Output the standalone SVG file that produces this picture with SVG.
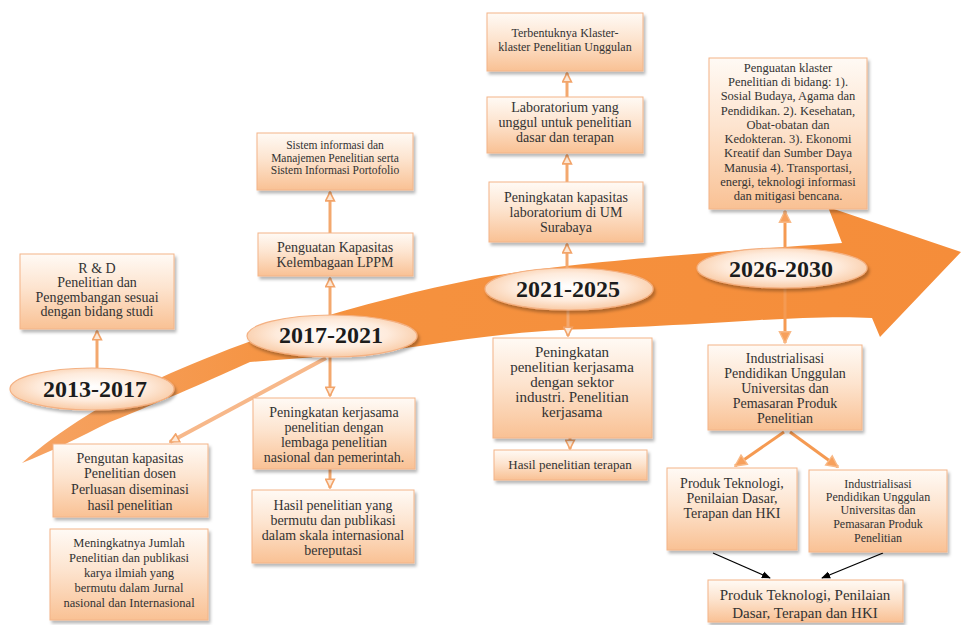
<svg xmlns="http://www.w3.org/2000/svg" width="961" height="625" viewBox="0 0 961 625">
<defs>
<linearGradient id="bg" x1="0" y1="0" x2="0" y2="1">
<stop offset="0" stop-color="#FFFAF5"/>
<stop offset="0.45" stop-color="#FDE4CF"/>
<stop offset="1" stop-color="#F9C194"/>
</linearGradient>
<radialGradient id="eg" cx="0.5" cy="0.45" r="0.6">
<stop offset="0" stop-color="#FFFFFF"/>
<stop offset="0.55" stop-color="#FEEBDC"/>
<stop offset="1" stop-color="#F8C49A"/>
</radialGradient>
<linearGradient id="band" x1="0" y1="0" x2="1" y2="0">
<stop offset="0" stop-color="#F6A363"/>
<stop offset="0.3" stop-color="#F5923F"/>
<stop offset="1" stop-color="#F58D3A"/>
</linearGradient>
<filter id="sh" x="-10%" y="-10%" width="130%" height="140%">
<feDropShadow dx="2" dy="3" stdDeviation="1.8" flood-color="#000" flood-opacity="0.28"/>
</filter>
<marker id="ao" viewBox="0 0 10 10" refX="9" refY="5" markerWidth="11" markerHeight="11" markerUnits="userSpaceOnUse" orient="auto">
<path d="M1,1 L9,5 L1,9 Z" fill="#FDE8D6" stroke="#F2A46A" stroke-width="1.5"/>
</marker>
<marker id="af" viewBox="0 0 10 10" refX="9" refY="5" markerWidth="14" markerHeight="14" markerUnits="userSpaceOnUse" orient="auto">
<path d="M1,1 L9,5 L1,9 Z" fill="#F7A05C" stroke="#F8B987" stroke-width="1"/>
</marker>
<marker id="ab" viewBox="0 0 10 10" refX="9" refY="5" markerWidth="9" markerHeight="9" markerUnits="userSpaceOnUse" orient="auto">
<path d="M0,1 L10,5 L0,9 Z" fill="#000"/>
</marker>
</defs>
<style>
.box{fill:url(#bg);stroke:#F3B488;stroke-width:1;filter:url(#sh)}
.el{fill:url(#eg);stroke:#F4B183;stroke-width:1.2;filter:url(#sh)}
.t{font-family:"Liberation Serif","Times New Roman",serif;fill:#333;text-anchor:middle}
.yr{font-family:"Liberation Serif","Times New Roman",serif;font-weight:bold;font-size:24px;fill:#1c1c1c;text-anchor:middle}
.c{stroke:#F3A86E;stroke-width:3;fill:none}
.cf{stroke:#F59A52;stroke-width:3;fill:none}
.cb{stroke:#000;stroke-width:1.3;fill:none}
</style>
<rect width="961" height="625" fill="#FFFFFF"/>
<path id="timeline-arrow" d="M22,463 C60,430 110,398 160,378 C200,360 240,344 300,324 C360,305 420,290 480,278 C560,264 680,254 842,243 L828,207 L961,252 L880,337 L872,318 C840,316 800,318 760,320 C700,324 620,328 560,330 C520,332 470,338 420,346 C360,355 300,358 250,362 C215,378 165,400 110,422 C80,437 50,452 22,463 Z" fill="url(#band)"/>
<g id="connectors">
<line class="c" x1="97" y1="368" x2="97" y2="331" marker-end="url(#ao)"/>
<line class="c" x1="330" y1="316" x2="330" y2="278" marker-end="url(#ao)"/>
<line class="c" x1="330" y1="233" x2="330" y2="192" marker-end="url(#ao)"/>
<line class="c" x1="330" y1="357" x2="330" y2="396" marker-end="url(#ao)"/>
<line class="c" x1="330" y1="469" x2="330" y2="488" marker-end="url(#ao)"/>
<line x1="326" y1="358" x2="170" y2="442" stroke="#F7B88A" stroke-width="4" marker-end="url(#ao)"/>
<line class="c" x1="567" y1="268" x2="567" y2="244" marker-end="url(#ao)"/>
<line class="c" x1="567" y1="182" x2="567" y2="155" marker-end="url(#ao)"/>
<line class="c" x1="567" y1="97" x2="567" y2="73" marker-end="url(#ao)"/>
<line class="c" x1="568" y1="310" x2="568" y2="336" marker-end="url(#ao)"/>
<line class="c" x1="570" y1="438" x2="570" y2="449" marker-end="url(#ao)"/>
<line class="cf" x1="785" y1="249" x2="785" y2="211" marker-end="url(#af)"/>
<line class="cf" x1="785" y1="288" x2="785" y2="343" marker-end="url(#af)"/>
<line class="cf" x1="784" y1="432" x2="735" y2="466" marker-end="url(#af)"/>
<line class="cf" x1="790" y1="432" x2="838" y2="467" marker-end="url(#af)"/>
<line class="cb" x1="713" y1="553" x2="770" y2="578" marker-end="url(#ab)"/>
<line class="cb" x1="883" y1="553" x2="822" y2="578" marker-end="url(#ab)"/>
</g>
<g id="y2013"><ellipse class="el" cx="92" cy="389" rx="82" ry="21"/><text class="yr" x="95" y="397">2013-2017</text></g>
<g id="y2017"><ellipse class="el" cx="332" cy="336" rx="85" ry="21"/><text class="yr" x="331" y="343">2017-2021</text></g>
<g id="y2021"><ellipse class="el" cx="569" cy="289" rx="84" ry="21"/><text class="yr" x="568" y="297">2021-2025</text></g>
<g id="y2026"><ellipse class="el" cx="782" cy="268" rx="85" ry="20"/><text class="yr" x="781" y="277">2026-2030</text></g>
<g id="rd"><rect class="box" x="20" y="254" width="154" height="75"/>
<text class="t" font-size="14"><tspan x="97" y="273">R &amp; D</tspan><tspan x="97" y="287">Penelitian dan</tspan><tspan x="97" y="302">Pengembangan sesuai</tspan><tspan x="97" y="316">dengan bidang studi</tspan></text></g>
<g id="sis"><rect class="box" x="257" y="133" width="156" height="57"/>
<text class="t" font-size="11.5"><tspan x="335" y="149">Sistem informasi dan</tspan><tspan x="335" y="161.5">Manajemen Penelitian serta</tspan><tspan x="335" y="174">Sistem Informasi Portofolio</tspan></text></g>
<g id="pkl"><rect class="box" x="258" y="233" width="155" height="43"/>
<text class="t" font-size="14"><tspan x="335" y="252">Penguatan Kapasitas</tspan><tspan x="335" y="267">Kelembagaan LPPM</tspan></text></g>
<g id="pkj"><rect class="box" x="253" y="398" width="162" height="71"/>
<text class="t" font-size="14"><tspan x="334" y="417">Peningkatan kerjasama</tspan><tspan x="334" y="432">penelitian dengan</tspan><tspan x="334" y="447">lembaga penelitian</tspan><tspan x="334" y="462">nasional dan pemerintah.</tspan></text></g>
<g id="hpm"><rect class="box" x="252" y="490" width="162" height="73"/>
<text class="t" font-size="14"><tspan x="333" y="510">Hasil penelitian yang</tspan><tspan x="333" y="525">bermutu dan publikasi</tspan><tspan x="333" y="540">dalam skala internasional</tspan><tspan x="333" y="555">bereputasi</tspan></text></g>
<g id="ter"><rect class="box" x="487" y="13" width="156" height="58"/>
<text class="t" font-size="12"><tspan x="565" y="37">Terbentuknya Klaster-</tspan><tspan x="565" y="51">klaster Penelitian Unggulan</tspan></text></g>
<g id="lab"><rect class="box" x="487" y="97" width="156" height="56"/>
<text class="t" font-size="14"><tspan x="565" y="112">Laboratorium yang</tspan><tspan x="565" y="127">unggul untuk penelitian</tspan><tspan x="565" y="142">dasar dan terapan</tspan></text></g>
<g id="pkla"><rect class="box" x="489" y="182" width="154" height="60"/>
<text class="t" font-size="14"><tspan x="566" y="202">Peningkatan kapasitas</tspan><tspan x="566" y="217">laboratorium di UM</tspan><tspan x="566" y="232">Surabaya</tspan></text></g>
<g id="ppk"><rect class="box" x="493" y="338" width="159" height="100"/>
<text class="t" font-size="15"><tspan x="572" y="357">Peningkatan</tspan><tspan x="572" y="372">penelitian kerjasama</tspan><tspan x="572" y="387">dengan sektor</tspan><tspan x="572" y="402">industri. Penelitian</tspan><tspan x="572" y="417">kerjasama</tspan></text></g>
<g id="hpt"><rect class="box" x="494" y="450" width="153" height="30"/>
<text class="t" font-size="13" x="570" y="469">Hasil penelitian terapan</text></g>
<g id="pkk"><rect class="box" x="709" y="58" width="158" height="151"/>
<text class="t" font-size="12.5"><tspan x="788" y="72">Penguatan klaster</tspan><tspan x="788" y="86">Penelitian di bidang: 1).</tspan><tspan x="788" y="100">Sosial Budaya, Agama dan</tspan><tspan x="788" y="115">Pendidikan. 2). Kesehatan,</tspan><tspan x="788" y="129">Obat-obatan dan</tspan><tspan x="788" y="143">Kedokteran. 3). Ekonomi</tspan><tspan x="788" y="157">Kreatif dan Sumber Daya</tspan><tspan x="788" y="172">Manusia 4). Transportasi,</tspan><tspan x="788" y="186">energi, teknologi informasi</tspan><tspan x="788" y="200">dan mitigasi bencana.</tspan></text></g>
<g id="ind"><rect class="box" x="708" y="345" width="154" height="85"/>
<text class="t" font-size="14"><tspan x="785" y="363">Industrialisasi</tspan><tspan x="785" y="378">Pendidikan Unggulan</tspan><tspan x="785" y="393">Universitas dan</tspan><tspan x="785" y="408">Pemasaran Produk</tspan><tspan x="785" y="423">Penelitian</tspan></text></g>
<g id="pt1"><rect class="box" x="667" y="468" width="130" height="82"/>
<text class="t" font-size="14"><tspan x="732" y="488">Produk Teknologi,</tspan><tspan x="732" y="503">Penilaian Dasar,</tspan><tspan x="732" y="518">Terapan dan HKI</tspan></text></g>
<g id="ind2"><rect class="box" x="809" y="470" width="138" height="82"/>
<text class="t" font-size="12"><tspan x="878" y="488">Industrialisasi</tspan><tspan x="878" y="501">Pendidikan Unggulan</tspan><tspan x="878" y="514">Universitas dan</tspan><tspan x="878" y="528">Pemasaran Produk</tspan><tspan x="878" y="542">Penelitian</tspan></text></g>
<g id="pt2"><rect class="box" x="708" y="580" width="195" height="42"/>
<text class="t" font-size="15"><tspan x="805" y="600">Produk Teknologi, Penilaian</tspan><tspan x="805" y="618">Dasar, Terapan dan HKI</tspan></text></g>
<g id="peng"><rect class="box" x="53" y="444" width="155" height="73"/>
<text class="t" font-size="14"><tspan x="130" y="463">Pengutan kapasitas</tspan><tspan x="130" y="478">Penelitian dosen</tspan><tspan x="130" y="494">Perluasan diseminasi</tspan><tspan x="130" y="510">hasil penelitian</tspan></text></g>
<g id="men"><rect class="box" x="50" y="529" width="158" height="91"/>
<text class="t" font-size="12.5"><tspan x="129" y="547">Meningkatnya Jumlah</tspan><tspan x="129" y="562">Penelitian dan publikasi</tspan><tspan x="129" y="577">karya ilmiah yang</tspan><tspan x="129" y="592">bermutu dalam Jurnal</tspan><tspan x="129" y="607">nasional dan Internasional</tspan></text></g>
</svg>
